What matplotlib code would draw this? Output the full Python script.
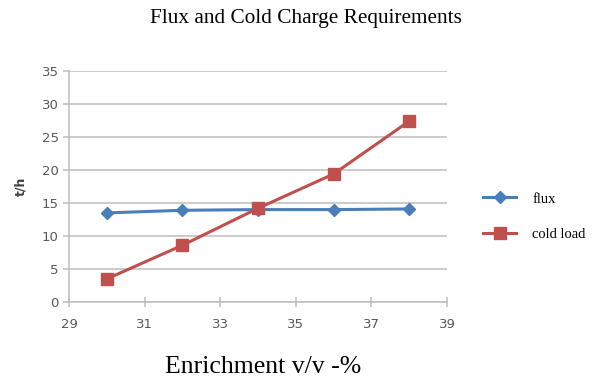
import matplotlib
matplotlib.use("Agg")
import matplotlib.pyplot as plt

# Enrichment levels (v/v %) and the corresponding requirements in t/h
enrichment = [30, 32, 34, 36, 38]
flux = [13.5, 13.9, 14.0, 14.0, 14.1]
cold_load = [3.5, 8.6, 14.2, 19.4, 27.4]

x_ticks = [29, 31, 33, 35, 37, 39]
y_ticks = [0, 5, 10, 15, 20, 25, 30, 35]

title = "Flux and Cold Charge Requirements"
x_label = "Enrichment v/v -%"
y_label = "t/h"

blue = "#4a7ebb"
red = "#c0504d"
grid_gray = "#bdbdbd"
tick_gray = "#595959"

fig = plt.figure(figsize=(6.11, 3.82), dpi=100)
ax = fig.add_axes([0.113, 0.2094, 0.6186, 0.6047])

ax.plot(enrichment, flux, color=blue, lw=2.2, marker="D", ms=6,
        label="flux", zorder=3)
ax.plot(enrichment, cold_load, color=red, lw=2.2, marker="s", ms=8,
        label="cold load", zorder=3)

ax.set_xlim(29, 39)
ax.set_ylim(0, 35)
ax.set_xticks(x_ticks)
ax.set_yticks(y_ticks)
ax.grid(axis="y", color=grid_gray, lw=1.1)
ax.set_axisbelow(True)

for side in ("top", "right"):
    ax.spines[side].set_visible(False)
for side in ("left", "bottom"):
    ax.spines[side].set_color(grid_gray)
    ax.spines[side].set_linewidth(1.1)

ax.tick_params(axis="both", colors=grid_gray, labelcolor=tick_gray,
               labelsize=9.5, length=4, width=1.1, direction="out")
ax.tick_params(axis="x", direction="inout", length=7, pad=8)

ax.set_ylabel(y_label, fontsize=9, color="#404040", fontweight="bold",
              labelpad=10)

fig.text(0.5, 0.952, title, ha="center", va="center",
         family="Liberation Serif", fontsize=15.3)
fig.text(0.431, 0.04, x_label, ha="center", va="center",
         family="Liberation Serif", fontsize=18.5)

leg = ax.legend(loc="center left", bbox_to_anchor=(1.06, 0.37),
                frameon=False, prop={"family": "Liberation Serif", "size": 10.5},
                handlelength=2.3, labelspacing=1.5, handletextpad=1.1)

fig.savefig("out.png", dpi=100)
